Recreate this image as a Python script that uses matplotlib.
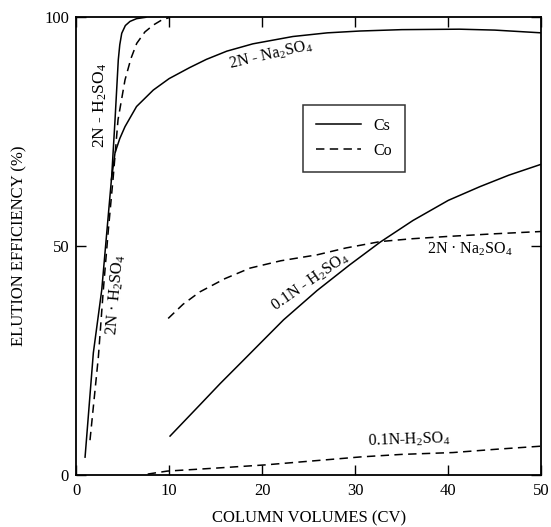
import matplotlib
matplotlib.use("Agg")
import matplotlib.pyplot as plt
from matplotlib.lines import Line2D

plt.rcParams['font.family'] = ['Liberation Serif', 'DejaVu Serif']
plt.rcParams['mathtext.fontset'] = 'custom'
plt.rcParams['mathtext.rm'] = 'Liberation Serif'
plt.rcParams['mathtext.it'] = 'Liberation Serif:italic'

# ---- data (column volumes, elution efficiency %) ----
cs_h2so4_2n_x = [0.97, 1.86, 2.76, 3.83, 4.19, 4.54, 4.7, 4.91, 5.3, 5.8, 6.5, 7.5]
cs_h2so4_2n_y = [3.9, 26.7, 40.4, 65.2, 77.6, 90.7, 94.0, 96.5, 98.2, 99.1, 99.7, 100.0]

co_h2so4_2n_x = [1.5, 2.4, 2.93, 3.47, 4.0, 4.51, 5.26, 5.9, 6.52, 7.4, 8.3, 9.2, 10.1]
co_h2so4_2n_y = [7.6, 25.8, 40.4, 53.5, 65.2, 77.6, 86.3, 91.0, 94.3, 96.8, 98.3, 99.4, 100.0]

cs_na2so4_x = [3.8, 4.19, 4.7, 5.26, 6.5, 8.3, 10.0, 12.2, 14.0, 16.2, 19.0, 23.3, 27.0, 30.5, 35.0, 41.2, 45.0, 50.0]
cs_na2so4_y = [64.5, 70.4, 73.5, 76.1, 80.5, 84.1, 86.6, 89.0, 90.8, 92.6, 94.2, 95.8, 96.6, 97.0, 97.3, 97.4, 97.2, 96.6]

co_na2so4_x = [9.9, 11.5, 13.3, 16.0, 18.7, 22.0, 25.9, 29.0, 32.7, 36.0, 39.8, 45.0, 50.0]
co_na2so4_y = [34.2, 37.3, 40.0, 42.9, 45.2, 46.8, 48.1, 49.6, 51.0, 51.6, 52.1, 52.7, 53.2]

cs_h2so4_01n_x = [10.1, 13.3, 15.5, 18.0, 20.0, 22.3, 25.9, 29.4, 32.7, 36.2, 40.0, 43.4, 46.5, 50.0]
cs_h2so4_01n_y = [8.5, 15.3, 20.0, 25.1, 29.2, 33.9, 40.3, 45.9, 50.9, 55.6, 60.0, 63.0, 65.5, 67.9]

co_h2so4_01n_x = [7.7, 9.8, 15.0, 20.3, 25.0, 30.6, 35.0, 40.5, 45.0, 50.0]
co_h2so4_01n_y = [0.2, 0.85, 1.5, 2.2, 3.0, 3.95, 4.5, 4.9, 5.6, 6.3]

x_ticks = [0, 10, 20, 30, 40, 50]
y_ticks = [0, 50, 100]

fig = plt.figure(figsize=(5.51, 5.27), dpi=100)
ax = fig.add_axes([0.138, 0.0987, 0.8445, 0.8685])

lw = 1.1
dash = (5.5, 3.5)
ax.plot(cs_h2so4_2n_x, cs_h2so4_2n_y, color='black', lw=lw)
ax.plot(co_h2so4_2n_x, co_h2so4_2n_y, color='black', lw=lw, linestyle=(0, dash))
ax.plot(cs_na2so4_x, cs_na2so4_y, color='black', lw=lw)
ax.plot(co_na2so4_x, co_na2so4_y, color='black', lw=lw, linestyle=(0, dash))
ax.plot(cs_h2so4_01n_x, cs_h2so4_01n_y, color='black', lw=lw)
ax.plot(co_h2so4_01n_x, co_h2so4_01n_y, color='black', lw=lw, linestyle=(0, dash))

ax.set_xlim(0, 50)
ax.set_ylim(0, 100)
ax.set_xticks(x_ticks)
ax.set_yticks(y_ticks)
ax.tick_params(direction='in', length=7, width=1, labelsize=12, top=True, right=True)
ax.tick_params(axis='x', pad=6)
ax.tick_params(axis='y', pad=5)
for s in ax.spines.values():
    s.set_linewidth(1.3)

ax.set_xlabel('COLUMN VOLUMES (CV)', fontsize=12, labelpad=8)
ax.set_ylabel('ELUTION EFFICIENCY (%)', fontsize=12, labelpad=12)

fs = 11.5
ax.text(2.6, 80.8, '2N - H$_2$SO$_4$', rotation=90, ha='center', va='center', fontsize=12.5)
ax.text(4.3, 39.5, '2N · H$_2$SO$_4$', rotation=85, ha='center', va='center', fontsize=12)
ax.text(20.9, 91.8, '2N - Na$_2$SO$_4$', rotation=13, ha='center', va='center', fontsize=fs)
ax.text(25.2, 42.1, '0.1N - H$_2$SO$_4$', rotation=35, ha='center', va='center', fontsize=fs)
ax.text(42.3, 49.2, '2N · Na$_2$SO$_4$', rotation=0, ha='center', va='center', fontsize=fs)
ax.text(35.8, 7.6, '0.1N-H$_2$SO$_4$', rotation=2, ha='center', va='center', fontsize=fs)

handles = [Line2D([], [], color='black', lw=lw),
           Line2D([], [], color='black', lw=lw, linestyle=(0, dash))]
leg = ax.legend(handles, ['Cs', 'Co'], loc='upper left', bbox_to_anchor=(0.488, 0.808),
                frameon=True, fancybox=False, edgecolor='black', fontsize=11.5,
                handlelength=2.8, borderpad=0.8, labelspacing=0.55, handletextpad=0.8,
                borderaxespad=0)
leg.get_frame().set_linewidth(1.1)

fig.savefig('out.png', dpi=100)
